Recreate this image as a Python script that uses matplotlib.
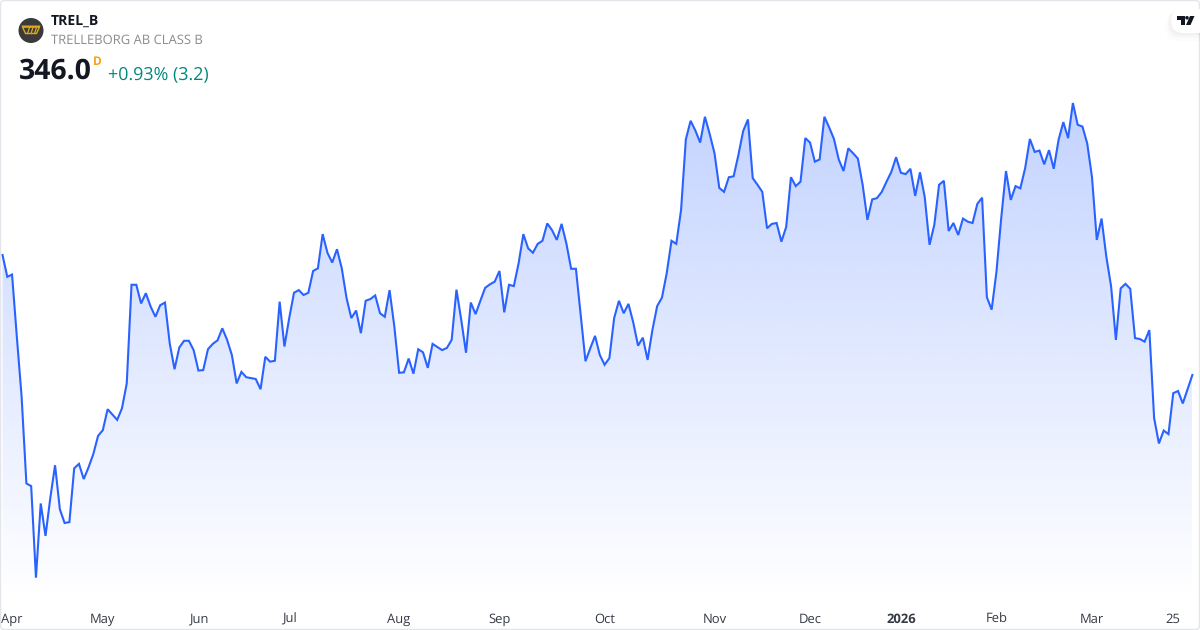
import numpy as np
import matplotlib
matplotlib.use("Agg")
import matplotlib.pyplot as plt
from matplotlib.patches import Circle, FancyBboxPatch, Polygon
from matplotlib.transforms import ScaledTranslation

W, H = 1200, 630
LINE = "#2962FF"

plt.rcParams['font.family'] = ['Open Sans', 'Noto Sans', 'DejaVu Sans']
plt.rcParams['text.hinting'] = 'no_hinting'

# daily close, Mar 2025 - Mar 2026
close = [
    373.0, 368.1, 368.6, 354.6, 341.1, 321.6, 321.0, 300.4, 317.1, 309.8,
    318.3, 325.7, 315.8, 312.7, 312.9, 325.0, 326.0, 322.6, 325.2, 328.2,
    332.3, 333.6, 338.3, 337.1, 335.9, 338.5, 344.1, 366.3, 366.3, 362.1,
    364.4, 361.4, 359.1, 361.7, 362.3, 353.1, 347.3, 352.2, 353.7, 353.7,
    351.6, 347.0, 347.1, 351.8, 353.0, 353.8, 356.5, 353.9, 350.5, 344.1,
    346.7, 345.5, 345.3, 345.1, 342.8, 350.1, 349.0, 349.2, 362.5, 352.4,
    358.8, 364.5, 365.1, 364.0, 364.5, 369.4, 370.0, 377.7, 373.5, 371.3,
    374.3, 370.0, 363.3, 358.8, 360.5, 355.4, 362.7, 363.1, 363.9, 359.9,
    359.1, 365.1, 356.9, 346.5, 346.6, 349.7, 346.3, 351.8, 351.1, 347.6,
    353.0, 352.3, 351.6, 352.1, 353.9, 365.2, 358.4, 351.0, 362.3, 359.7,
    362.7, 365.6, 366.4, 367.0, 369.4, 360.1, 366.3, 366.0, 371.1, 377.7,
    374.5, 373.5, 375.5, 376.2, 380.1, 378.6, 376.4, 380.0, 375.6, 369.9,
    369.9, 359.5, 349.1, 352.0, 354.8, 350.5, 348.3, 349.8, 358.8, 362.7,
    359.9, 362.0, 357.8, 352.6, 354.4, 349.4, 356.1, 361.5, 363.4, 368.9,
    376.2, 375.5, 383.1, 399.0, 403.2, 401.0, 398.3, 404.1, 400.2, 395.9,
    388.1, 387.2, 390.5, 390.7, 395.5, 400.9, 403.5, 390.3, 388.8, 387.2,
    379.0, 380.0, 380.2, 376.0, 379.3, 390.5, 388.5, 389.5, 399.3, 398.3,
    394.0, 394.5, 404.1, 401.7, 399.1, 394.5, 391.9, 397.0, 395.9, 394.7,
    388.8, 380.9, 385.5, 385.8, 387.2, 389.5, 391.7, 395.0, 391.5, 391.2,
    392.4, 386.3, 391.6, 386.0, 375.3, 379.8, 388.8, 389.7, 378.4, 380.2,
    377.5, 381.2, 380.5, 380.2, 384.5, 385.9, 363.5, 360.7, 369.2, 381.3,
    391.9, 385.4, 388.5, 388.0, 392.5, 399.1, 396.2, 396.5, 393.4, 396.6,
    392.4, 398.9, 402.9, 399.3, 407.2, 402.3, 401.9, 398.1, 390.5, 376.4,
    381.2, 372.6, 365.9, 353.9, 365.5, 366.5, 365.4, 354.3, 354.1, 353.5,
    356.1, 336.3, 330.6, 333.5, 332.7, 341.9, 342.4, 339.6, 342.8, 346.0,
]

tick_pos = [0, 21, 41, 60, 83, 104, 126, 149, 169, 188, 208, 228, 245]
tick_labels = ["Apr", "May", "Jun", "Jul", "Aug", "Sep", "Oct", "Nov", "Dec", "2026", "Feb", "Mar", "25"]

fig = plt.figure(figsize=(W / 100, H / 100), dpi=100)

ax = fig.add_axes([0, 30 / H, 1, 600 / H])
days = np.arange(len(close))
ax.patch.set_alpha(0)
for s in ax.spines.values():
    s.set_visible(False)
ax.set_yticks([])
ax.set_xticks(tick_pos, tick_labels)
ax.tick_params(axis='x', length=0, pad=16.3, labelsize=9.4, labelcolor="#363A45")
for lab, txt in zip(ax.get_xticklabels(), tick_labels):
    lab.set_va("baseline")
    if txt == "2026":
        lab.set_fontweight("bold")
    if txt == "Apr":
        lab.set_ha("left")
        lab.set_transform(lab.get_transform() + ScaledTranslation(-1.5 / 100, 0, fig.dpi_scale_trans))

# area under the line, fades out to the bottom
grad = np.ones((256, 2, 4))
grad[..., 0] = 41 / 255
grad[..., 1] = 98 / 255
grad[..., 2] = 1.0
grad[..., 3] = np.linspace(0.28, 0.0, 256)[:, None]
im = ax.imshow(grad, aspect='auto', origin='upper', zorder=1,
               extent=[days[0], days[-1], 295.375, max(close)])
ax.set_xlim(-0.523, 250.6)
ax.set_ylim(295.375, 430.375)
area = ax.fill_between(days, close, ax.get_ylim()[0], facecolor='none', edgecolor='none')
im.set_clip_path(area.get_paths()[0], transform=ax.transData)

ax.plot(days, close, color=LINE, lw=1.5, zorder=3, solid_joinstyle='miter')

# header and card drawn in pixel coordinates
top = fig.add_axes([0, 0, 1, 1])
top.axis('off')
top.patch.set_alpha(0)

top.add_patch(FancyBboxPatch((0.5, 0.5), W - 1, H - 1, boxstyle="round,pad=0,rounding_size=4",
                             fc='none', ec="#E3E5EA", lw=1))

# logo
GOLD = "#DBA81E"
top.add_patch(Circle((31, 30.5), 12.5, fc="#3A3A3A", ec='none'))
top.add_patch(Polygon([(21.5, 25.5), (40.5, 25.5), (39.8, 27.5), (22.2, 27.5)], closed=True, fc=GOLD, ec='none'))
top.add_patch(Polygon([(22.5, 27), (39.5, 27), (36.5, 33.5), (25.5, 33.5)], closed=True,
                      fc='none', ec=GOLD, lw=1))
for lx in (28, 31.5, 35):
    top.plot([lx + 1.5, lx - 0.5], [27.5, 33.5], color=GOLD, lw=0.9)

top.text(51, 21.5, "TREL_B", fontsize=10.1, fontweight='bold', color="#131722", va='center')
top.text(51, 40.5, "TRELLEBORG AB CLASS B", fontsize=9.36, color="#8C8C8C", va='center')
top.text(19, 71.5, "346.0", fontsize=20.4, fontweight='bold', color="#131722", va='center')
top.text(93, 61.5, "D", fontsize=8.6, fontweight='bold', color="#F7A21B", va='center')
top.text(108, 74.5, "+0.93% (3.2)", fontsize=12.85, color="#00897B", va='center')

# tradingview badge
for off, a in ((5, 0.012), (3, 0.018), (1.5, 0.025)):
    top.add_patch(FancyBboxPatch((1171 - off, 9 + off * 0.6), 40 + off, 24 + off, boxstyle="round,pad=0,rounding_size=12",
                                 fc='black', ec='none', alpha=a, zorder=4))
top.add_patch(FancyBboxPatch((1171, 9), 40, 24, boxstyle="round,pad=0,rounding_size=12",
                             fc='white', ec='none', zorder=5))
top.add_patch(Polygon([(1177, 16), (1184.5, 16), (1184.5, 25), (1181, 25), (1181, 19.5), (1177, 19.5)],
                      closed=True, fc="#131722", ec='none', zorder=6))
top.add_patch(Circle((1187, 17.8), 1.8, fc="#131722", ec='none', zorder=6))
top.add_patch(Polygon([(1190, 16), (1194.5, 16), (1190.5, 25), (1186, 25)],
                      closed=True, fc="#131722", ec='none', zorder=6))
top.set_xlim(0, W)
top.set_ylim(H, 0)

fig.savefig("out.png", dpi=100)
